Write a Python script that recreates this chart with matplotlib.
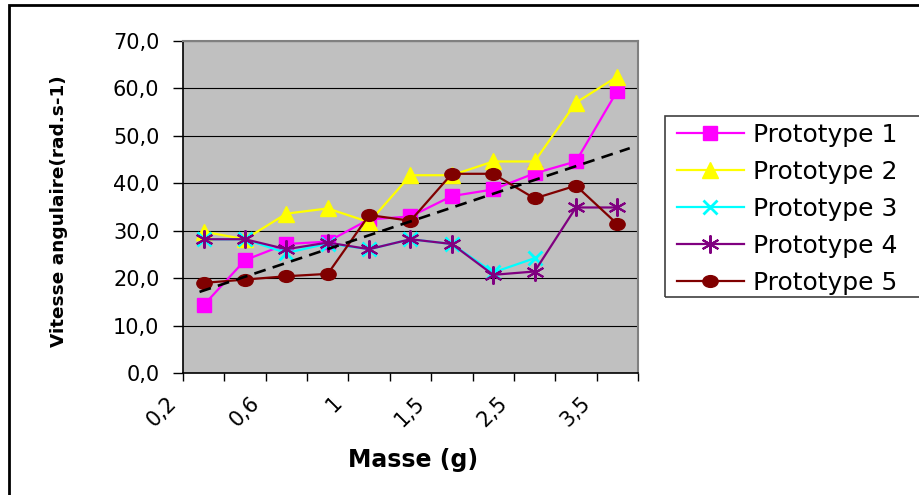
import numpy as np
import matplotlib
matplotlib.use("Agg")
import matplotlib.pyplot as plt
import matplotlib.transforms as mtransforms
from matplotlib.path import Path
from matplotlib.patches import Rectangle

plt.rcParams["font.family"] = ["DejaVu Sans"]

# --- data ---
masses = ["0,2", "0,4", "0,6", "0,8", "1", "1,25", "1,5", "2", "2,5", "3", "3,5"]
proto1 = [14.3, 23.8, 27.2, 27.7, 32.4, 33.0, 37.3, 38.7, 42.1, 44.6, 59.5]
proto2 = [29.8, 28.2, 33.6, 34.7, 31.8, 41.7, 41.7, 44.6, 44.6, 57.0, 62.5]
proto3 = [28.2, 28.2, 25.3, 27.3, 26.1, 28.2, 27.2, 21.2, 24.2, np.nan, np.nan]
proto4 = [28.2, 28.2, 26.1, 27.5, 26.1, 28.2, 27.2, 20.7, 21.4, 34.9, 34.9]
proto5 = [19.0, 19.7, 20.4, 20.9, 33.3, 32.1, 42.0, 42.0, 36.8, 39.5, 31.4]
trend_pos = [-0.1, 10.3]
trend_vals = [17.1, 47.4]
yticks = [0, 10, 20, 30, 40, 50, 60, 70]

x = np.arange(len(masses))

fig = plt.figure(figsize=(9.2, 4.95), dpi=100)
ax = fig.add_axes([183 / 920, 1 - 373 / 495, 455 / 920, 332 / 495])
ax.set_facecolor("#C0C0C0")

# stretched dot like the excel one
ellipse = Path.unit_circle().transformed(mtransforms.Affine2D().scale(1.3, 1.0))

series = [
    ("Prototype 1", proto1, "#FF00FF", dict(marker="s", ms=10.5)),
    ("Prototype 2", proto2, "#FFFF00", dict(marker="^", ms=12)),
    ("Prototype 3", proto3, "#00FFFF", dict(marker="x", ms=10, mew=2)),
    ("Prototype 4", proto4, "#800080", dict(marker=(6, 2, 0), ms=13, mew=1.5)),
    ("Prototype 5", proto5, "#800000", dict(marker=ellipse, ms=11)),
]
for i, (name, vals, col, mk) in enumerate(series):
    ax.plot(x, vals, color=col, lw=1.6, label=name, zorder=3 + i,
            markerfacecolor=col, markeredgecolor=col, **mk)

# trend line
ax.plot(trend_pos, trend_vals, color="black", lw=1.9, ls=(0, (4.5, 2.8)), zorder=10)

ax.set_xlim(-0.5, len(masses) - 0.5)
ax.set_ylim(0, 70)
ax.set_yticks(yticks)
ax.set_yticklabels([f"{v:.1f}".replace(".", ",") for v in yticks], fontsize=15)
ax.yaxis.grid(True, color="black", lw=0.8)
ax.set_axisbelow(True)
ax.tick_params(axis="y", length=7, width=1, pad=10)

# category ticks between the points, every other label
ax.set_xticks(x[::2])
ax.set_xticklabels(masses[::2], rotation=45, ha="right", va="top", fontsize=15)
ax.set_xticks(np.arange(len(masses) + 1) - 0.5, minor=True)
ax.tick_params(axis="x", which="major", length=0, pad=14)
ax.tick_params(axis="x", which="minor", length=6, width=1)
shift = mtransforms.ScaledTranslation(-23 / 100, 0, fig.dpi_scale_trans)
for lab in ax.get_xticklabels():
    lab.set_transform(lab.get_transform() + shift)

for s in ["top", "right"]:
    ax.spines[s].set_color("#808080")
    ax.spines[s].set_linewidth(1.5)
for s in ["left", "bottom"]:
    ax.spines[s].set_color("black")
    ax.spines[s].set_linewidth(1.2)

fig.text(413 / 920, 1 - 460 / 495, "Masse (g)", fontsize=17, fontweight="bold",
         ha="center", va="center")
fig.text(59 / 920, 1 - 211 / 495, "Vitesse angulaire(rad.s-1)", fontsize=13.3,
         fontweight="bold", rotation=90, ha="center", va="center")

leg = fig.legend(loc="upper left", bbox_to_anchor=(677 / 920, 1 - 123 / 495),
                 frameon=False, fontsize=18, borderpad=0, borderaxespad=0,
                 handlelength=2.68, handletextpad=0.36, labelspacing=0.52,
                 numpoints=1)

# legend box and outer chart border (both run off the image like the original)
fig.patches.append(Rectangle((665 / 920, 1 - 297 / 495), 0.4, 181 / 495,
                             transform=fig.transFigure, fill=False,
                             edgecolor="#404040", lw=1.2))
fig.patches.append(Rectangle((9 / 920, -0.2), 1.2, 1.2 - 5 / 495,
                             transform=fig.transFigure, fill=False,
                             edgecolor="black", lw=2))

fig.savefig("out.png", dpi=100)
